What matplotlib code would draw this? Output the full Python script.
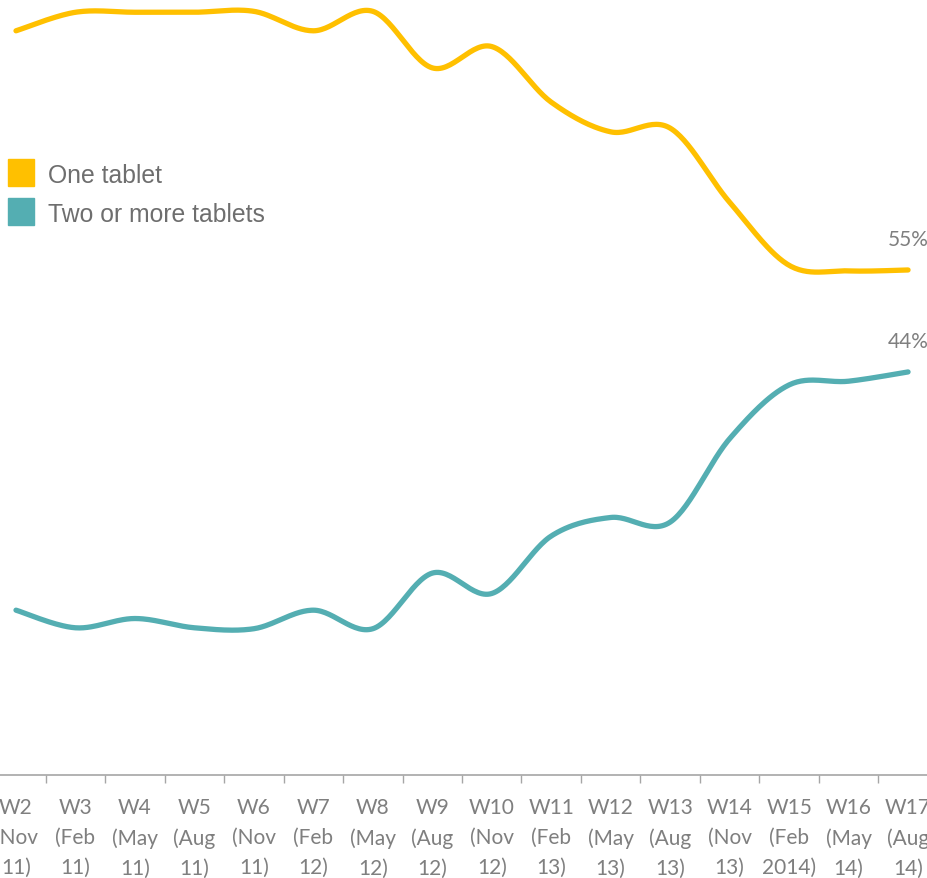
import numpy as np
import matplotlib
matplotlib.use("Agg")
import matplotlib.pyplot as plt
from matplotlib.patches import Rectangle

categories = ["W2\n(Nov\n11)", "W3\n(Feb\n11)", "W4\n(May\n11)", "W5\n(Aug\n11)",
              "W6\n(Nov\n11)", "W7\n(Feb\n12)", "W8\n(May\n12)", "W9\n(Aug\n12)",
              "W10\n(Nov\n12)", "W11\n(Feb\n13)", "W12\n(May\n13)", "W13\n(Aug\n13)",
              "W14\n(Nov\n13)", "W15\n(Feb\n2014)", "W16\n(May\n14)", "W17\n(Aug\n14)"]
one_tablet = [80.8, 82.8, 82.8, 82.8, 82.9, 80.8, 82.9, 76.8, 79.1, 73.1, 69.9, 70.3, 62.3, 55.5, 54.9, 55.0]
two_or_more = [18.3, 16.4, 17.4, 16.4, 16.3, 18.3, 16.3, 22.3, 20.1, 26.3, 28.3, 27.8, 36.8, 42.6, 43.0, 44.0]
series_names = ["One tablet", "Two or more tablets"]
colors = ["#FFC000", "#54AEB2"]
end_labels = ["55%", "44%"]

GRAY = "#7f7f7f"


def smooth(xs, ys, n=30):
    """Catmull-Rom style Bezier smoothing (like Excel smoothed lines)."""
    xs = np.asarray(xs, float)
    ys = np.asarray(ys, float)
    P = np.column_stack([xs, ys])
    out = []
    for i in range(len(P) - 1):
        p0 = P[i - 1] if i > 0 else P[i]
        p1 = P[i]
        p2 = P[i + 1]
        p3 = P[i + 2] if i + 2 < len(P) else P[i + 1]
        c1 = p1 + (p2 - p0) / 6.0
        c2 = p2 - (p3 - p1) / 6.0
        t = np.linspace(0, 1, n, endpoint=(i == len(P) - 2))[:, None]
        b = ((1 - t) ** 3) * p1 + 3 * ((1 - t) ** 2) * t * c1 + 3 * (1 - t) * t ** 2 * c2 + t ** 3 * p2
        out.append(b)
    B = np.vstack(out)
    return B[:, 0], B[:, 1]


fig = plt.figure(figsize=(9.28, 8.79), dpi=100)
ax = fig.add_axes([0, 103 / 879, 1, 776 / 879])

x = np.arange(len(categories))
for vals, c in zip([one_tablet, two_or_more], colors):
    sx, sy = smooth(x, vals)
    ax.plot(sx, sy, color=c, lw=3.8, solid_capstyle="round", solid_joinstyle="round")

for s in ["top", "right", "left"]:
    ax.spines[s].set_visible(False)
ax.spines["bottom"].set_color("#a6a6a6")
ax.spines["bottom"].set_linewidth(1.2)
ax.set_yticks([])

ax.set_xticks(np.arange(-1, len(categories)) + 0.5)
ax.set_xticklabels([])
ax.tick_params(axis="x", which="major", length=6, width=1.0, color="#a6a6a6")
ax.set_xticks(x, minor=True)
ax.set_xticklabels(categories, minor=True, fontsize=15, color=GRAY,
                   family=["Lato", "DejaVu Sans"], linespacing=1.62)
ax.tick_params(axis="x", which="minor", length=0, pad=16)

ax.set_xlim(-16 / 59.47, (928 - 16) / 59.47)
ax.set_ylim(0.52, 84.23)

# End labels
for vals, lab in zip([one_tablet, two_or_more], end_labels):
    ax.annotate(lab, (x[-1], vals[-1]), xytext=(0, 18), textcoords="offset points",
                ha="center", va="baseline", fontsize=15, color=GRAY,
                family=["Lato", "DejaVu Sans"])

# Legend (manual)
for i, (name, c) in enumerate(zip(series_names, colors)):
    ytop = 160 + i * 39
    fig.patches.append(Rectangle((8 / 928, 1 - (ytop + 27) / 879), 26 / 928, 27 / 879,
                                 transform=fig.transFigure, color=c))
    fig.text(48 / 928, 1 - (ytop + 23) / 879, name, fontsize=17.8, color="#6e6e6e",
             family=["Liberation Sans", "DejaVu Sans"], va="baseline", ha="left")

fig.savefig("out.png", dpi=100)
